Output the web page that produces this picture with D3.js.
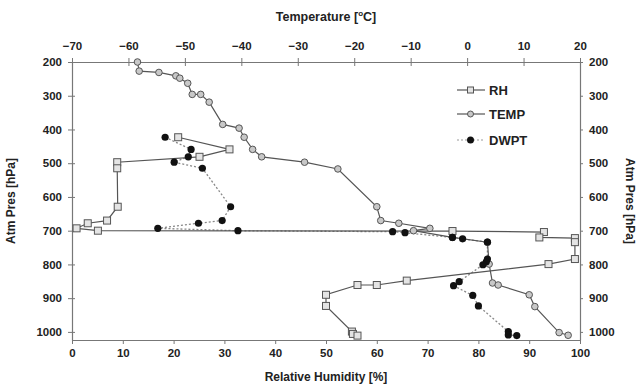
<!DOCTYPE html>
<html><head><meta charset="utf-8">
<script src="https://cdn.jsdelivr.net/npm/d3@7/dist/d3.min.js"></script>
<style>
html,body{margin:0;padding:0;background:#fff;}
svg text{font-family:"Liberation Sans",Arial,sans-serif;font-weight:bold;fill:#222;}
</style></head>
<body><svg id="c" width="640" height="385"></svg>
<script>
// ---- data ----
const rhPres = [423,459,481,497,515,629,670,678,693,700,701,704,720,722,734,784,799,848,861,861,890,923,999,1006,1011];
const rhVals = [20.9,31.0,25.1,8.9,8.9,9.0,6.9,3.1,0.9,5.1,74.9,92.9,92.0,99.0,99.0,99.0,93.8,65.9,60.0,56.2,50.0,50.0,55.1,55.3,56.2];

const tempPres = [200,227,231,241,248,263,296,296,319,385,396,423,459,481,497,517,629,670,678,693,700,720,734,799,855,861,890,925,1002,1010];
const tempVals = [-58.4,-58.1,-54.6,-51.6,-50.9,-49.5,-48.7,-47.2,-45.7,-43.3,-40.4,-39.5,-38.0,-36.4,-28.8,-22.9,-16.0,-15.3,-12.1,-6.6,-9.5,-2.6,3.6,3.9,4.5,5.5,11.0,12.0,16.3,17.9];

const dwptPres = [423,459,481,497,515,629,670,678,693,700,703,706,720,724,734,784,792,801,851,863,892,923,999,1009,1011];
const dwptVals = [-53.5,-48.9,-49.4,-51.9,-46.9,-41.9,-43.4,-47.6,-54.8,-40.6,-13.2,-11.0,-2.6,-0.8,3.6,3.6,3.4,2.8,-1.4,-2.4,1.0,2.0,7.3,7.3,8.8];

const presTicks = [200,300,400,500,600,700,800,900,1000];
const rhTicks = [0,10,20,30,40,50,60,70,80,90,100];
const tempTicks = [-70,-60,-50,-40,-30,-20,-10,0,10,20];
const seriesNames = ["RH","TEMP","DWPT"];

// ---- layout ----
const svg = d3.select("#c");
const L = 72, R = 580, T = 62, B = 340;
const x = d3.scaleLinear().domain([0,100]).range([L,R]);
const xt = d3.scaleLinear().domain([-70,20]).range([L,R]);
const y = d3.scaleLinear().domain([200,1024]).range([T,B]);
const fmt = d3.format("d");

function styleAxis(g){
  g.selectAll("path.domain").attr("stroke","#777").attr("stroke-width",1.2);
  g.selectAll(".tick line").attr("stroke","#777").attr("stroke-width",1);
  g.selectAll(".tick text").attr("font-size",11.5).attr("font-weight","bold")
    .attr("font-family","Liberation Sans, Arial, sans-serif").attr("fill","#222");
}
const gl = svg.append("g").attr("transform",`translate(${L},0)`)
  .call(d3.axisLeft(y).tickValues(presTicks).tickFormat(fmt).tickSizeInner(4).tickSizeOuter(0).tickPadding(6));
gl.selectAll(".tick line").attr("x1",3);
styleAxis(gl);
const gr = svg.append("g").attr("transform",`translate(${R},0)`)
  .call(d3.axisRight(y).tickValues(presTicks).tickFormat(fmt).tickSizeInner(3).tickSizeOuter(0).tickPadding(6));
styleAxis(gr);
const gb = svg.append("g").attr("transform",`translate(0,${B})`)
  .call(d3.axisBottom(x).tickValues(rhTicks).tickFormat(fmt).tickSizeInner(4).tickSizeOuter(0).tickPadding(5));
styleAxis(gb);
const gt = svg.append("g").attr("transform",`translate(0,${T})`)
  .call(d3.axisTop(xt).tickValues(tempTicks).tickFormat(fmt).tickSizeInner(4).tickSizeOuter(0).tickPadding(8));
gt.selectAll(".tick line").attr("y1",4);
styleAxis(gt);

// titles
const tt = svg.append("text").attr("x",(L+R)/2).attr("y",21).attr("text-anchor","middle").attr("font-size",12.5);
tt.append("tspan").text("Temperature [");
tt.append("tspan").attr("font-size",8).attr("dy",-5).text("o");
tt.append("tspan").attr("dy",5).text("C]");
svg.append("text").attr("x",(L+R)/2).attr("y",381).attr("text-anchor","middle").attr("font-size",12).text("Relative Humidity [%]");
svg.append("text").attr("transform",`translate(15,${(T+B)/2}) rotate(-90)`).attr("text-anchor","middle").attr("font-size",12).text("Atm Pres [hPa]");
svg.append("text").attr("transform",`translate(626,${(T+B)/2}) rotate(90)`).attr("text-anchor","middle").attr("font-size",12).text("Atm Pres [hPa]");

// ---- series ----
const rhData = rhPres.map((p,i)=>({p, v:rhVals[i]}));
const tempData = tempPres.map((p,i)=>({p, v:tempVals[i]}));
const dwptData = dwptPres.map((p,i)=>({p, v:dwptVals[i]}));

const lineRH = d3.line().x(d=>x(d.v)).y(d=>y(d.p));
const lineT = d3.line().x(d=>xt(d.v)).y(d=>y(d.p));

svg.append("path").datum(dwptData).attr("d",lineT).attr("fill","none")
  .attr("stroke","#888").attr("stroke-width",1.3).attr("stroke-dasharray","2,2");
svg.append("path").datum(rhData).attr("d",lineRH).attr("fill","none")
  .attr("stroke","#555").attr("stroke-width",1.2);
svg.append("path").datum(tempData).attr("d",lineT).attr("fill","none")
  .attr("stroke","#555").attr("stroke-width",1.2);

svg.selectAll("rect.rh").data(rhData).enter().append("rect").attr("class","rh")
  .attr("x",d=>x(d.v)-3.5).attr("y",d=>y(d.p)-3.5).attr("width",7).attr("height",7)
  .attr("fill","#e4e4e4").attr("stroke","#555").attr("stroke-width",1);
svg.selectAll("circle.t").data(tempData).enter().append("circle").attr("class","t")
  .attr("cx",d=>xt(d.v)).attr("cy",d=>y(d.p)).attr("r",3.3)
  .attr("fill","#c8c8c8").attr("stroke","#555").attr("stroke-width",1);
svg.selectAll("circle.dw").data(dwptData).enter().append("circle").attr("class","dw")
  .attr("cx",d=>xt(d.v)).attr("cy",d=>y(d.p)).attr("r",3.6)
  .attr("fill","#111");

// ---- legend ----
const lg = svg.append("g");
const ly = [90,114,140];
seriesNames.forEach((n,i)=>{
  const yy = ly[i];
  lg.append("line").attr("x1",457).attr("x2",485).attr("y1",yy).attr("y2",yy)
    .attr("stroke", i===2?"#999":"#555").attr("stroke-width",1.2)
    .attr("stroke-dasharray", i===2?"2,2":null);
  if(i===0) lg.append("rect").attr("x",467.5).attr("y",yy-3).attr("width",6).attr("height",6)
    .attr("fill","#e4e4e4").attr("stroke","#555");
  else if(i===1) lg.append("circle").attr("cx",470.5).attr("cy",yy).attr("r",3)
    .attr("fill","#c8c8c8").attr("stroke","#555");
  else lg.append("circle").attr("cx",470.5).attr("cy",yy).attr("r",3.5).attr("fill","#111");
  lg.append("text").attr("x",489).attr("y",yy+4.5).attr("font-size",13).text(n);
});
</script></body></html>
